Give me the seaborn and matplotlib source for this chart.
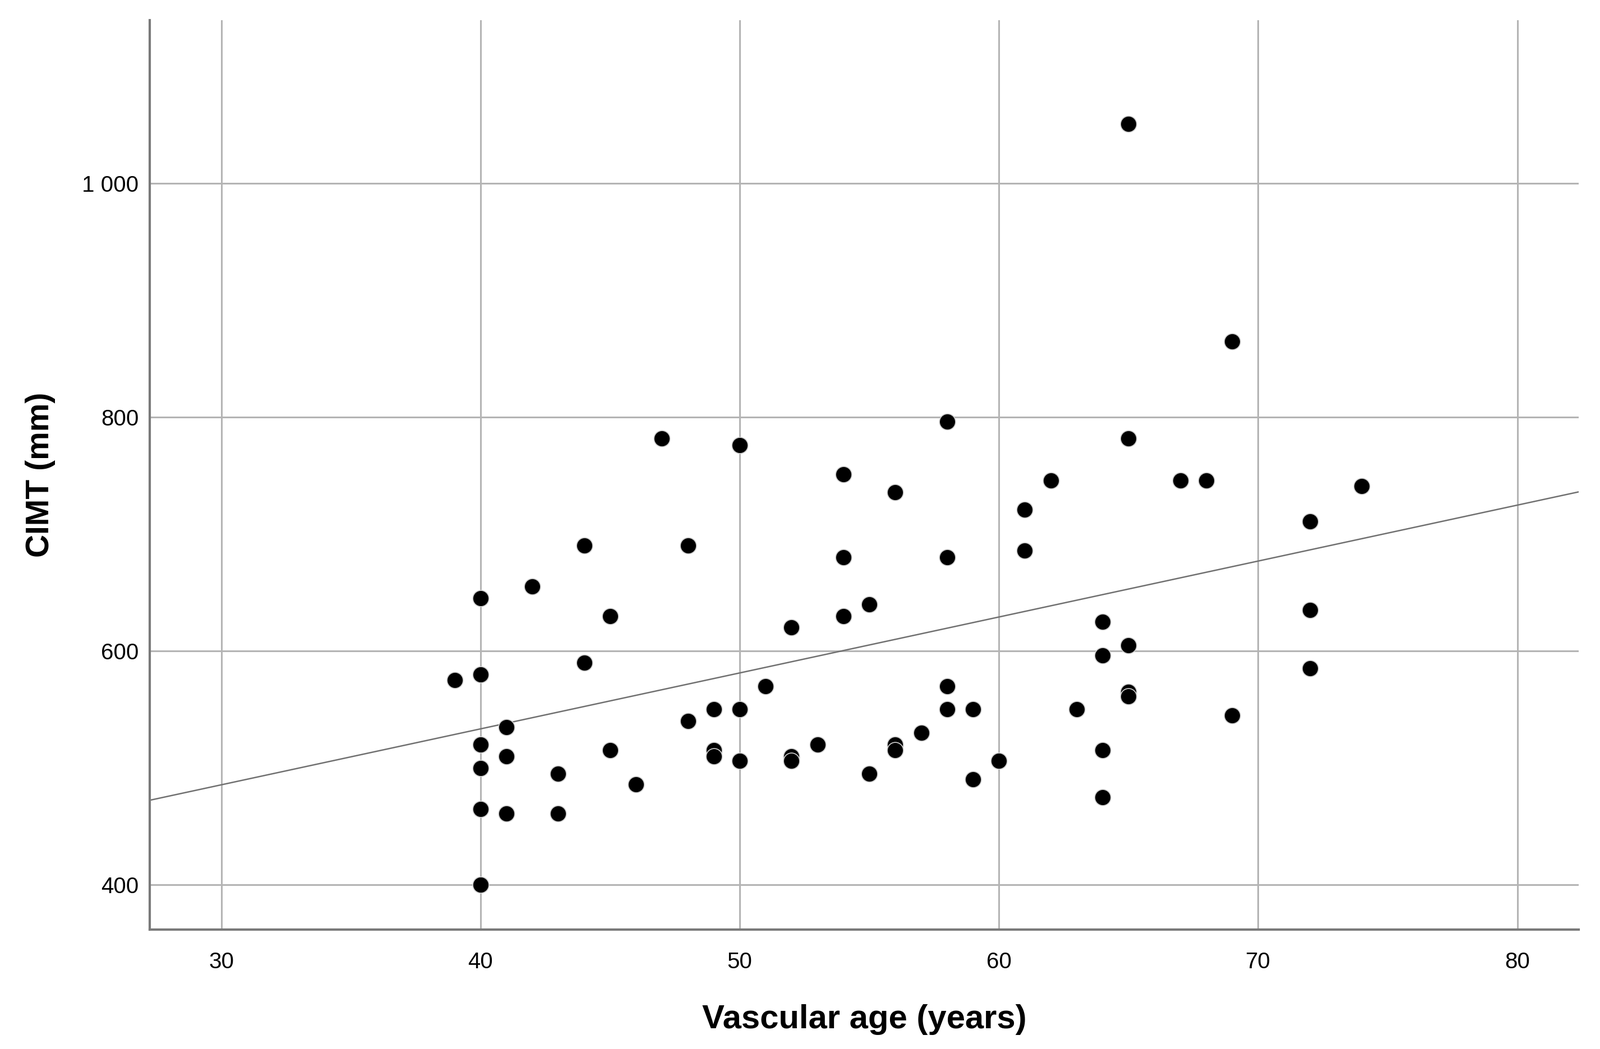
import pandas as pd
import matplotlib.pyplot as plt
import seaborn as sns
from matplotlib.ticker import FuncFormatter

# valores
idade = [39, 40, 40, 40, 40, 40, 40, 41, 41, 41, 42, 43, 43, 44, 44, 45, 45, 46,
         47, 48, 48, 49, 49, 49, 50, 50, 50, 51, 52, 52, 52, 53, 54, 54, 54, 55,
         55, 56, 56, 56, 57, 58, 58, 58, 58, 59, 59, 60, 61, 61, 62, 63, 64, 64,
         64, 64, 65, 65, 65, 65, 65, 67, 68, 69, 69, 72, 72, 72, 74]
cimt = [575, 645, 580, 520, 500, 465, 400, 535, 510, 461, 655, 495, 461, 690, 590, 630, 515, 486,
        782, 690, 540, 550, 515, 510, 776, 550, 506, 570, 620, 510, 506, 520, 751, 680, 630, 640,
        495, 736, 520, 515, 530, 796, 680, 570, 550, 550, 490, 506, 721, 686, 746, 550, 625, 596,
        515, 475, 1051, 782, 605, 565, 561, 746, 746, 865, 545, 711, 635, 585, 741]

x_ticks = [30, 40, 50, 60, 70, 80]
y_ticks = [400, 600, 800, 1000]

df = pd.DataFrame({"idade": idade, "cimt": cimt})

sns.set_style("white")
plt.rcParams['font.family'] = ['Liberation Sans', 'DejaVu Sans']
plt.rcParams['text.color'] = 'black'
plt.rcParams['axes.labelcolor'] = 'black'
plt.rcParams['xtick.color'] = 'black'
plt.rcParams['ytick.color'] = 'black'

fig = plt.figure(figsize=(28.53, 18.71), dpi=100)
ax = fig.add_axes([0.0936, 0.1138, 0.893, 0.867])

ax.set_xlim(27.24, 82.36)
ax.set_ylim(361.6, 1139.7)
ax.set_xticks(x_ticks)
ax.set_yticks(y_ticks)
ax.grid(True, color='#b4b4b4', linewidth=2.2)
ax.set_axisbelow(True)

# linha de regressao ajustada aos dados
sns.regplot(data=df, x="idade", y="cimt", ax=ax, scatter=False, ci=None,
            truncate=False, line_kws={"color": "#707070", "linewidth": 1.8})
sns.scatterplot(data=df, x="idade", y="cimt", ax=ax, color='black', s=430,
                edgecolor='#d0d0d0', linewidth=1.2, zorder=3)

ax.yaxis.set_major_formatter(FuncFormatter(lambda v, p: f"{int(v):,}".replace(",", " ")))
ax.tick_params(axis='y', labelsize=29, length=0, pad=14)
ax.tick_params(axis='x', labelsize=29, length=0, pad=28)

for lado in ['top', 'right']:
    ax.spines[lado].set_visible(False)
for lado in ['left', 'bottom']:
    ax.spines[lado].set_color('#7a7a7a')
    ax.spines[lado].set_linewidth(3)

ax.set_xlabel("Vascular age (years)", fontsize=43, fontweight='bold', labelpad=40)
ax.set_ylabel("CIMT (mm)", fontsize=41, fontweight='bold', labelpad=34)

plt.savefig("out.png", dpi=100)
plt.close()
